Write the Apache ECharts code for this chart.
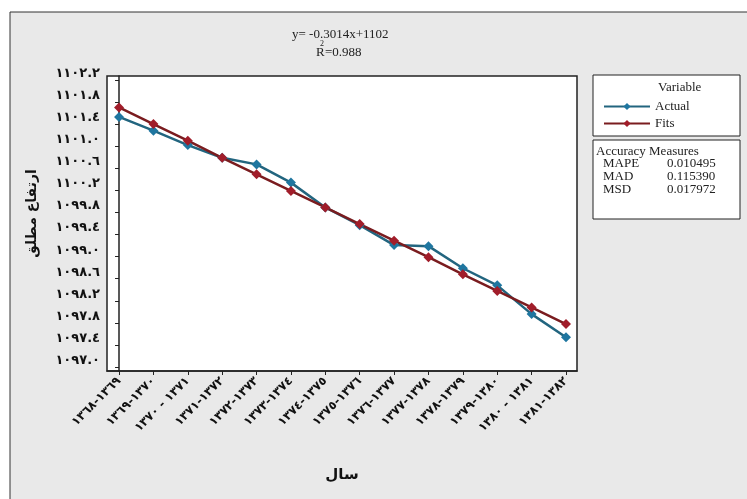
<!DOCTYPE html>
<html>
<head>
<meta charset="utf-8">
<script src="https://cdn.jsdelivr.net/npm/echarts@6/dist/echarts.min.js"></script>
<style>html,body{margin:0;padding:0;background:#fff}#c{width:747px;height:499px}</style>
</head>
<body>
<div id="c"></div>
<script>
var categories = ['١٣٦٨-١٣٦٩','١٣٦٩-١٣٧٠','١٣٧٠ - ١٣٧١','١٣٧١-١٣٧٢','١٣٧٢-١٣٧٣','١٣٧٣-١٣٧٤','١٣٧٤-١٣٧٥','١٣٧٥-١٣٧٦','١٣٧٦-١٣٧٧','١٣٧٧-١٣٧٨','١٣٧٨-١٣٧٩','١٣٧٩-١٣٨٠','١٣٨٠ - ١٣٨١','١٣٨١-١٣٨٢'];
var actual = [1101.53, 1101.28, 1101.02, 1100.79, 1100.67, 1100.34, 1099.89, 1099.57, 1099.21, 1099.19, 1098.79, 1098.48, 1097.96, 1097.54];
var fits = [1101.70, 1101.40, 1101.10, 1100.79, 1100.49, 1100.19, 1099.89, 1099.59, 1099.29, 1098.99, 1098.68, 1098.38, 1098.08, 1097.78];
var yTicks = [1097.0, 1097.4, 1097.8, 1098.2, 1098.6, 1099.0, 1099.4, 1099.8, 1100.2, 1100.6, 1101.0, 1101.4, 1101.8, 1102.2];
var measures = [['MAPE','0.010495'],['MAD','0.115390'],['MSD','0.017972']];

function toArabicDigits(s){ return String(s).replace(/[0-9]/g, function(d){ return '٠١٢٣٤٥٦٧٨٩'[+d]; }); }
function ltrLabel(s){ return s.replace(/(\s*)-(\s*)/, function(m,a,b){ return '\u200E' + a + '-' + b + '\u200E'; }); }
var xIdx = categories.map(function(c,i){return i;});
var serif = '"Liberation Serif", "DejaVu Serif", serif';

var chart = echarts.init(document.getElementById('c'), null, {renderer:'canvas'});
var graphics = [
  {type:'rect', z:-10, shape:{x:10,y:12,width:745,height:495}, style:{fill:'#e9e9e9', stroke:'#333', lineWidth:1}},
  {type:'text', left:292, top:28, style:{text:'y= -0.3014x+1102', font:'13px '+serif, fill:'#222'}},
  {type:'text', left:316, top:46, style:{text:'R', font:'13px '+serif, fill:'#222'}},
  {type:'text', left:320, top:40, style:{text:'2', font:'8px '+serif, fill:'#222'}},
  {type:'text', left:325, top:46, style:{text:'=0.988', font:'13px '+serif, fill:'#222'}},
  {type:'rect', shape:{x:593,y:75,width:147,height:61}, style:{fill:'#fff', stroke:'#222', lineWidth:1}},
  {type:'text', left:658, top:81, style:{text:'Variable', font:'13px '+serif, fill:'#222'}},
  {type:'rect', shape:{x:593,y:140,width:147,height:79}, style:{fill:'#fff', stroke:'#222', lineWidth:1}},
  {type:'text', left:596, top:145, style:{text:'Accuracy Measures', font:'13px '+serif, fill:'#222'}}
];
measures.forEach(function(m,i){
  graphics.push({type:'text', left:603, top:157+i*13, style:{text:m[0], font:'13px '+serif, fill:'#222'}});
  graphics.push({type:'text', left:667, top:157+i*13, style:{text:m[1], font:'13px '+serif, fill:'#222'}});
});

chart.setOption({
  animation:false,
  backgroundColor:'#fff',
  graphic: graphics,
  grid:{left:107, right:170, top:76, bottom:128, show:true, backgroundColor:'#fff', borderColor:'#222', borderWidth:1.5},
  legend:{
    orient:'vertical', left:598, top:95, itemWidth:46, itemHeight:9, itemGap:4,
    textStyle:{fontFamily:serif, fontSize:13, color:'#222'},
    data:['Actual','Fits']
  },
  xAxis:{
    type:'value', min:-0.35, max:13.32,
    axisLine:{show:true, lineStyle:{color:'#222', width:1.5}},
    axisTick:{show:true, length:4, customValues:xIdx, lineStyle:{color:'#222'}},
    axisLabel:{customValues:xIdx, rotate:45, margin:8, fontFamily:'"DejaVu Sans"', fontSize:12, fontWeight:'bold', color:'#111',
      formatter:function(v){ return ltrLabel(categories[Math.round(v)]); }},
    splitLine:{show:false},
    name:'سال', nameLocation:'middle', nameGap:97,
    nameTextStyle:{fontFamily:'"DejaVu Sans"', fontSize:15, fontWeight:'bold', color:'#111'}
  },
  yAxis:{
    type:'value', min:1096.93, max:1102.27,
    axisLine:{show:true, lineStyle:{color:'#222', width:1.5}},
    axisTick:{show:true, length:4, customValues:yTicks, lineStyle:{color:'#222'}},
    axisLabel:{customValues:yTicks, margin:7, verticalAlign:'bottom', fontFamily:'"DejaVu Sans"', fontSize:13, fontWeight:'bold', color:'#111',
      formatter:function(v){ return toArabicDigits(v.toFixed(1)); }},
    splitLine:{show:false},
    name:'ارتفاع مطلق', nameLocation:'middle', nameGap:68, nameRotate:90,
    nameTextStyle:{fontFamily:'"DejaVu Sans"', fontSize:14, fontWeight:'bold', color:'#111', padding:[0,0,0,20]}
  },
  series:[
    {name:'Actual', type:'line', data:actual.map(function(v,i){return [i,v];}),
      symbol:'diamond', symbolSize:10, lineStyle:{color:'#22657f', width:2.5},
      itemStyle:{color:'#1f76a0'}},
    {name:'Fits', type:'line', data:fits.map(function(v,i){return [i,v];}),
      symbol:'diamond', symbolSize:10, lineStyle:{color:'#7a1c1f', width:2.5},
      itemStyle:{color:'#a11d2a'}}
  ]
});
</script>
</body>
</html>
